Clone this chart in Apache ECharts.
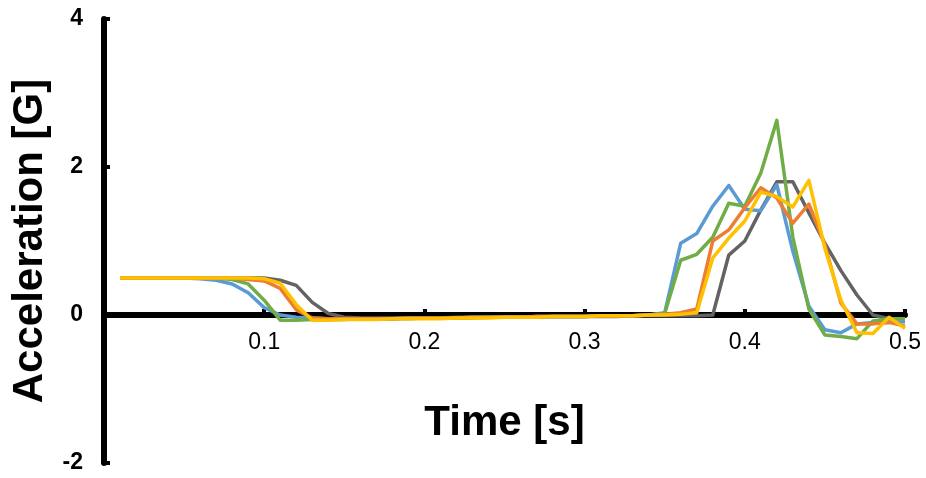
<!DOCTYPE html>
<html><head><meta charset="utf-8">
<script src="https://cdn.jsdelivr.net/npm/echarts@6/dist/echarts.min.js"></script>
<style>html,body{margin:0;padding:0;background:#fff}#c{width:926px;height:478px}</style>
</head><body><div id="c"></div>
<script>
var times = [0.01,0.02,0.03,0.04,0.05,0.06,0.07,0.08,0.09,0.10,
             0.11,0.12,0.13,0.14,0.15,0.16,0.17,0.18,0.19,0.20,
             0.21,0.22,0.23,0.24,0.25,0.26,0.27,0.28,0.29,0.30,
             0.31,0.32,0.33,0.34,0.35,0.36,0.37,0.38,0.39,0.40,
             0.41,0.42,0.43,0.44,0.45,0.46,0.47,0.48,0.49,0.50];
var blue = [0.5,0.5,0.5,0.5,0.5,0.49,0.47,0.42,0.3,0.1,
            0.0,-0.03,-0.04,-0.05,-0.05,-0.05,-0.05,-0.05,-0.04,-0.04,
            -0.04,-0.04,-0.03,-0.03,-0.03,-0.03,-0.02,-0.02,-0.02,-0.02,
            -0.01,-0.01,-0.01,0.0,0.03,0.97,1.1,1.47,1.75,1.43,
            1.41,1.76,0.86,0.12,-0.2,-0.24,-0.12,-0.1,-0.1,-0.09];
var orange = [0.5,0.5,0.5,0.5,0.5,0.5,0.5,0.5,0.48,0.46,
              0.36,0.07,-0.04,-0.05,-0.05,-0.05,-0.05,-0.05,-0.04,-0.04,
              -0.04,-0.04,-0.03,-0.03,-0.03,-0.03,-0.02,-0.02,-0.02,-0.02,
              -0.01,-0.01,-0.01,0.0,0.01,0.03,0.08,1.0,1.15,1.45,
              1.72,1.58,1.24,1.5,0.95,0.16,-0.12,-0.12,-0.1,-0.15];
var gray = [0.5,0.5,0.5,0.5,0.5,0.5,0.5,0.5,0.5,0.5,
            0.47,0.4,0.17,0.02,-0.03,-0.04,-0.04,-0.04,-0.04,-0.04,
            -0.04,-0.03,-0.03,-0.03,-0.03,-0.03,-0.02,-0.02,-0.02,-0.02,
            -0.02,-0.02,-0.01,-0.01,-0.01,-0.01,-0.01,0.0,0.81,1.0,
            1.42,1.8,1.8,1.38,0.97,0.6,0.27,0.0,-0.05,-0.05];
var yellow = [0.5,0.5,0.5,0.5,0.5,0.5,0.5,0.5,0.5,0.49,
              0.43,0.14,-0.07,-0.07,-0.06,-0.06,-0.06,-0.05,-0.05,-0.05,
              -0.05,-0.04,-0.04,-0.04,-0.03,-0.03,-0.03,-0.02,-0.02,-0.02,
              -0.01,-0.01,-0.01,0.0,0.0,0.01,0.03,0.77,1.04,1.27,
              1.66,1.6,1.46,1.82,0.9,0.2,-0.24,-0.25,-0.03,-0.18];
var green = [0.5,0.5,0.5,0.5,0.5,0.5,0.5,0.48,0.42,0.2,
             -0.07,-0.07,-0.06,-0.06,-0.06,-0.05,-0.05,-0.05,-0.05,-0.04,
             -0.04,-0.04,-0.04,-0.03,-0.03,-0.03,-0.03,-0.02,-0.02,-0.02,
             -0.01,-0.01,-0.01,0.0,0.02,0.74,0.82,1.05,1.51,1.47,
             1.92,2.63,1.05,0.08,-0.27,-0.29,-0.32,-0.08,-0.05,-0.05];
var xTicks = [0.1,0.2,0.3,0.4,0.5];
var yTicks = [-2,0,2,4];

function pairs(v){ return times.map(function(t,i){ return [t, v[i]]; }); }
var seriesDefs = [
  {name:'gray', data:gray, color:'#636363'},
  {name:'blue', data:blue, color:'#5B9BD5'},
  {name:'green', data:green, color:'#70AD47'},
  {name:'orange', data:orange, color:'#ED7D31'},
  {name:'yellow', data:yellow, color:'#FFC000'}
];
var chart = echarts.init(document.getElementById('c'), null, {renderer:'canvas'});
chart.setOption({
  animation:false,
  backgroundColor:'#ffffff',
  grid:{left:104, right:21, top:19, bottom:15, containLabel:false, outerBoundsMode:'none'},
  xAxis:{
    type:'value', min:0, max:0.5, interval:0.1,
    offset:-148,
    name:'Time [s]', nameLocation:'middle', nameGap:87,
    nameTextStyle:{fontFamily:'Liberation Sans', fontWeight:'bold', fontSize:42, color:'#000'},
    axisLine:{onZero:false, lineStyle:{color:'#000', width:6}},
    axisTick:{show:true, inside:true, length:6, lineStyle:{color:'#000', width:4}},
    axisLabel:{margin:16, fontFamily:'Liberation Sans', fontSize:23, color:'#000',
      formatter:function(v){ return xTicks.indexOf(Math.round(v*10)/10) >= 0 && v>0 ? String(Math.round(v*10)/10) : ''; }},
    splitLine:{show:false}
  },
  yAxis:{
    type:'value', min:-2, max:4, interval:2,
    name:'Acceleration [G]', nameLocation:'middle', nameGap:52, nameRotate:90,
    nameTextStyle:{fontFamily:'Liberation Sans', fontWeight:'bold', fontSize:42, color:'#000'},
    axisLine:{show:true, onZero:false, lineStyle:{color:'#000', width:6}},
    axisTick:{show:true, inside:true, length:6, lineStyle:{color:'#000', width:4}},
    axisLabel:{margin:21, fontFamily:'Liberation Sans', fontWeight:'bold', fontSize:23, color:'#000',
      formatter:function(v){ return yTicks.indexOf(v) >= 0 ? String(v) : ''; }},
    splitLine:{show:false}
  },
  series: seriesDefs.map(function(s){
    return {type:'line', name:s.name, data:pairs(s.data), showSymbol:false, symbol:'none',
      lineStyle:{color:s.color, width:3.5, join:'round'}, itemStyle:{color:s.color}, z:3};
  })
});
</script></body></html>
